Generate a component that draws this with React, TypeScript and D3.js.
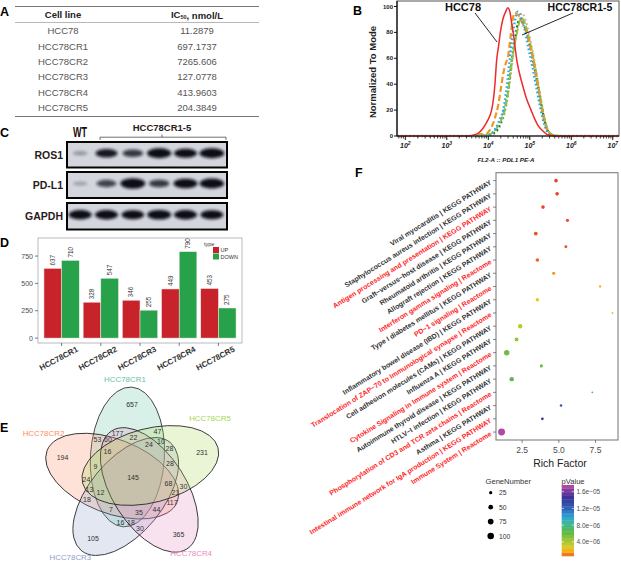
import React, { useMemo } from "react";
import * as d3 from "d3";

const FONT = "'Liberation Sans', Arial, Helvetica, sans-serif";

// ---------- A: IC50 table
const cellLines = ["HCC78", "HCC78CR1", "HCC78CR2", "HCC78CR3", "HCC78CR4", "HCC78CR5"];
const ic50Values = [11.2879, 697.1737, 7265.606, 127.0778, 413.9603, 204.3849];

// ---------- B: PD-L1 flow histograms, [log10(FL2-A), % of mode]
const hcc78Hist = [[1.8,0],[3.5,0],[3.65,0.8],[3.75,2],[3.85,5],[3.95,10],[4.03,15],[4.08,20],[4.13,30],[4.16,40],[4.2,58],[4.25,70],[4.29,80],[4.35,90],[4.42,96],[4.47,99],[4.52,96],[4.56,88],[4.6,80],[4.64,70],[4.68,60],[4.74,50],[4.82,40],[4.92,29],[5.03,20],[5.12,13],[5.2,8],[5.31,4],[5.4,1.5],[5.5,0.3],[5.6,0],[7.15,0]];
const cr1Hist = [[1.8,0],[3.9,0],[4.0,0.5],[4.08,2],[4.18,6],[4.28,13],[4.36,20],[4.42,32],[4.47,45],[4.52,60],[4.57,74],[4.62,85],[4.67,93],[4.71,96],[4.76,94],[4.82,88],[4.88,82],[4.94,72],[5.0,63],[5.06,54],[5.12,44],[5.18,34],[5.24,24],[5.3,15],[5.36,8],[5.42,3],[5.5,0.8],[5.6,0],[7.15,0]];
const cr2Hist = [[1.8,0],[3.7,0],[3.8,1.5],[3.9,1],[4.0,3],[4.08,7],[4.16,14],[4.24,24],[4.3,36],[4.36,48],[4.42,56],[4.48,62],[4.53,75],[4.58,88],[4.63,95],[4.7,94],[4.77,91],[4.84,86],[4.92,80],[5.0,70],[5.06,62],[5.12,52],[5.18,42],[5.23,32],[5.28,22],[5.34,13],[5.4,6],[5.47,2],[5.55,0.5],[5.65,0],[7.15,0]];
const cr3Hist = [[1.8,0],[3.6,0],[3.8,0.5],[4.0,1],[4.12,3],[4.22,7],[4.32,13],[4.4,20],[4.47,32],[4.52,45],[4.57,58],[4.62,68],[4.68,78],[4.74,87],[4.8,91],[4.86,89],[4.92,83],[4.98,76],[5.05,66],[5.12,55],[5.18,44],[5.24,33],[5.3,22],[5.36,13],[5.42,6],[5.5,2],[5.6,0.5],[5.75,0],[7.15,0]];
const cr4Hist = [[1.8,0],[3.8,0],[4.0,0.5],[4.12,2],[4.24,6],[4.34,14],[4.42,24],[4.48,36],[4.54,52],[4.6,66],[4.66,78],[4.71,87],[4.76,90],[4.82,88],[4.88,84],[4.94,78],[5.0,70],[5.07,60],[5.14,48],[5.2,38],[5.26,27],[5.32,17],[5.38,9],[5.45,3],[5.55,0.8],[5.65,0],[7.15,0]];
const cr5Hist = [[1.8,0],[3.9,0],[4.1,1],[4.22,4],[4.32,10],[4.4,18],[4.47,30],[4.53,44],[4.59,60],[4.65,74],[4.71,85],[4.77,92],[4.82,95],[4.87,92],[4.93,86],[4.99,78],[5.06,67],[5.13,55],[5.19,43],[5.25,32],[5.31,21],[5.37,12],[5.43,5],[5.5,1.5],[5.6,0],[7.15,0]];
const flowTicksY = [0, 20, 40, 60, 80, 100];
const flowDecades = [2, 3, 4, 5, 6, 7];

// ---------- C: western blot band intensity (WT, CR1..CR5)
const blotLanes = ["WT", "CR1", "CR2", "CR3", "CR4", "CR5"];
const ros1Bands = [0.1, 0.75, 0.6, 0.92, 0.82, 0.97];
const pdl1Bands = [0.06, 0.55, 1.0, 0.6, 0.9, 0.95];
const gapdhBands = [0.85, 0.85, 0.8, 0.9, 0.85, 0.82];

// ---------- D: DEG counts
const degLines = ["HCC78CR1", "HCC78CR2", "HCC78CR3", "HCC78CR4", "HCC78CR5"];
const upCounts = [637, 328, 346, 449, 453];
const downCounts = [710, 547, 255, 790, 275];
const degTicks = [0, 250, 500, 750];

// ---------- E: Venn (sets numbered 1..5 = CR1..CR5)
const vennNames = ["HCC78CR1", "HCC78CR2", "HCC78CR3", "HCC78CR4", "HCC78CR5"];
const vennKeys = ["1","2","3","4","5","15","45","34","23","12","14","35","24","13","25",
  "124","135","245","134","235","145","345","234","123","125",
  "1245","1345","2345","1234","1235","12345"];
const vennCounts = [657,194,105,365,231,47,30,30,18,53,177,28,117,16,24,
  60,10,21,18,13,22,28,44,7,9,
  16,24,68,35,12,145];

// ---------- F: enrichment dot plot
const pathwayNames = [
  "Viral myocarditis | KEGG PATHWAY",
  "Staphylococcus aureus infection | KEGG PATHWAY",
  "Antigen processing and presentation | KEGG PATHWAY",
  "Graft\u2212versus\u2212host disease | KEGG PATHWAY",
  "Rheumatoid arthritis | KEGG PATHWAY",
  "Allograft rejection | KEGG PATHWAY",
  "Interferon gamma signaling | Reactome",
  "Type I diabetes mellitus | KEGG PATHWAY",
  "PD\u22121 signaling | Reactome",
  "Inflammatory bowel disease (IBD) | KEGG PATHWAY",
  "Translocation of ZAP\u221270 to Immunological synapse | Reactome",
  "Cell adhesion molecules (CAMs) | KEGG PATHWAY",
  "Influenza A | KEGG PATHWAY",
  "Cytokine Signaling in Immune system | Reactome",
  "Autoimmune thyroid disease | KEGG PATHWAY",
  "HTLV\u2212I infection | KEGG PATHWAY",
  "Phosphorylation of CD3 and TCR zeta chains | Reactome",
  "Asthma | KEGG PATHWAY",
  "Intestinal immune network for IgA production | KEGG PATHWAY",
  "Immune System | Reactome",
];
const pathwayHighlighted = [false,false,true,false,false,false,true,false,true,false,true,false,false,true,false,false,true,false,true,true];
const richFactor = [4.81,4.88,3.92,5.59,3.43,5.48,3.54,4.65,7.81,3.54,8.65,2.37,2.12,1.45,3.81,1.79,7.28,5.15,3.88,1.1];
const geneNumber = [30,30,30,22,34,20,30,22,12,28,8,45,35,70,22,45,8,15,18,110];
const pValue = [3e-7,3e-7,3.5e-7,4e-7,5e-7,5e-7,7e-7,1.4e-6,1.8e-6,2.4e-6,2.6e-6,3.5e-6,4.6e-6,5.8e-6,6.2e-6,6.5e-6,8.4e-6,1.25e-5,1.4e-5,1.72e-5];
const sizeLegend = [25, 50, 75, 100];
const pLegend = [4e-6, 8e-6, 1.2e-5, 1.6e-5];

// ---------- style
const red = "#c8232b";
const green = "#27a24a";
const vennColors = ["#66c2a5", "#fc8d62", "#8da0cb", "#e78ac3", "#a6d854"];
const pStops = [0, 0.8e-6, 2.2e-6, 4e-6, 6.5e-6, 8.5e-6, 1.0e-5, 1.2e-5, 1.45e-5, 1.6e-5, 1.76e-5];
const pColors = ["#e62a2a","#f06a20","#f3c81e","#aac832","#5cb84c","#3db79a","#2ea6d6","#2f62b8","#3a3394","#6e3a9e","#c64da6"];

// R style "1.6e-05"
const fmtP = (p) => p.toExponential(1).replace(/e-(\d)$/, "e\u22120$1");

function Letter({ x, y, t }) {
  return <text x={x} y={y} fontSize={12.5} fontWeight="bold" fill="#000">{t}</text>;
}

function PanelA() {
  const y = d3.scaleBand().domain(cellLines).range([23.3, 115.3]);
  return (
    <g>
      <Letter x={0} y={16} t="A" />
      <line x1={15} x2={259} y1={6.5} y2={6.5} stroke="#777" strokeWidth={1} />
      <line x1={15} x2={259} y1={22.5} y2={22.5} stroke="#999" strokeWidth={0.7} />
      <line x1={15} x2={259} y1={116.5} y2={116.5} stroke="#777" strokeWidth={1.1} />
      <text x={63} y={14.5} fontSize={9.5} fontWeight="bold" textAnchor="middle" dominantBaseline="central" fill="#222">Cell line</text>
      <text x={197} y={14.5} fontSize={9.5} fontWeight="bold" textAnchor="middle" dominantBaseline="central" fill="#222">
        IC<tspan fontSize={5.5} dy={2}>50</tspan><tspan dy={-2}>, nmol/L</tspan>
      </text>
      {cellLines.map((c, i) => (
        <g key={c} fill="#555" fontSize={9.5} textAnchor="middle" dominantBaseline="central">
          <text x={63} y={y(c) + y.bandwidth() / 2}>{c}</text>
          <text x={197} y={y(c) + y.bandwidth() / 2}>{String(ic50Values[i])}</text>
        </g>
      ))}
    </g>
  );
}

function PanelB() {
  const x = d3.scaleLog().domain([10 ** 1.8, 10 ** 7.15]).range([397, 619]);
  const y = d3.scaleLinear().domain([0, 100]).range([136, 6.5]);
  const line = d3.line().x((d) => x(10 ** d[0])).y((d) => y(d[1])).curve(d3.curveMonotoneX);
  const series = [
    { d: cr5Hist, c: "#d9a3ab", w: 2, dash: "1.6,3" },
    { d: cr4Hist, c: "#12733a", w: 2.2, dash: "1.8,2.6" },
    { d: cr3Hist, c: "#8cc63f", w: 2, dash: "7,2" },
    { d: cr2Hist, c: "#f7941d", w: 2.2, dash: "6,3" },
    { d: cr1Hist, c: "#27aae1", w: 2.4, dash: "1.6,2.4" },
    { d: hcc78Hist, c: "#ee2a2a", w: 1.5, dash: null },
  ];
  const minor = [];
  for (let e = 1; e <= 7; e++) for (let m = 2; m <= 9; m++) {
    const v = m * 10 ** e;
    if (v >= 10 ** 1.8 && v <= 10 ** 7.15) minor.push(v);
  }
  return (
    <g>
      <Letter x={353} y={15} t="B" />
      <rect x={397} y={1} width={222} height={135} fill="none" stroke="#555" strokeWidth={1} />
      {series.map((s, i) => (
        <path key={i} d={line(s.d)} fill="none" stroke={s.c} strokeWidth={s.w} strokeDasharray={s.dash || undefined} />
      ))}
      <line x1={397} x2={397} y1={1} y2={136} stroke="#111" strokeWidth={1.2} />
      <line x1={397} x2={619} y1={136} y2={136} stroke="#111" strokeWidth={1.2} />
      {flowTicksY.map((t) => (
        <g key={t}>
          <line x1={394} x2={397} y1={y(t)} y2={y(t)} stroke="#111" />
          <text x={393} y={y(t)} fontSize={6} fontWeight="bold" textAnchor="end" dominantBaseline="central" fill="#222">{t}</text>
        </g>
      ))}
      {minor.map((v) => <line key={v} x1={x(v)} x2={x(v)} y1={136} y2={138.5} stroke="#111" strokeWidth={0.8} />)}
      {flowDecades.map((e) => (
        <g key={e}>
          <line x1={x(10 ** e)} x2={x(10 ** e)} y1={136} y2={140} stroke="#111" strokeWidth={1} />
          <text x={x(10 ** e)} y={148} fontSize={7} fontWeight="bold" fontStyle="italic" textAnchor="middle" fill="#222">
            10<tspan fontSize={5} dy={-3.5}>{e}</tspan>
          </text>
        </g>
      ))}
      <text x={506} y={162} fontSize={6.2} fontWeight="bold" fontStyle="italic" textAnchor="middle" fill="#222">FL2-A :: PDL1 PE-A</text>
      <text transform="translate(376,72) rotate(-90)" fontSize={9.5} fontWeight="bold" textAnchor="middle" fill="#222">Normalized To Mode</text>
      <text x={463} y={11} fontSize={11} fontWeight="bold" textAnchor="middle" fill="#111">HCC78</text>
      <line x1={475} y1={13} x2={497} y2={42} stroke="#111" strokeWidth={0.9} />
      <text x={580} y={11} fontSize={10.5} fontWeight="bold" textAnchor="middle" fill="#111">HCC78CR1-5</text>
      <line x1={573} y1={13} x2={522} y2={35} stroke="#111" strokeWidth={0.9} />
    </g>
  );
}

function PanelC() {
  const lane = d3.scaleBand().domain(blotLanes).range([67, 225]);
  const rows = [
    { name: "ROS1", bands: ros1Bands, y0: 142, y1: 167.5 },
    { name: "PD-L1", bands: pdl1Bands, y0: 172, y1: 198 },
    { name: "GAPDH", bands: gapdhBands, y0: 203, y1: 229.5 },
  ];
  return (
    <g>
      <defs>
        <filter id="blotBlur" x="-30%" y="-60%" width="160%" height="220%">
          <feGaussianBlur stdDeviation="1.6" />
        </filter>
      </defs>
      <Letter x={0} y={136.7} t="C" />
      <text x={80} y={136.5} fontSize={15} fontWeight="bold" textAnchor="middle" textLength={14} lengthAdjust="spacingAndGlyphs" fill="#1a0d0d">WT</text>
      <text x={162} y={130.5} fontSize={9.5} fontWeight="bold" textAnchor="middle" fill="#2a1a1a">HCC78CR1-5</text>
      <path d="M100,140 L100,137.2 L226,137.2 L226,140 M162,137.2 L162,134.5" fill="none" stroke="#333" strokeWidth={0.7} />
      {rows.map((r) => (
        <g key={r.name}>
          <text x={63} y={(r.y0 + r.y1) / 2} fontSize={10.5} fontWeight="bold" textAnchor="end" dominantBaseline="central" fill="#2a1a1a">{r.name}</text>
          <rect x={67} y={r.y0} width={160} height={r.y1 - r.y0} fill="#d4d6de" />
          <g filter="url(#blotBlur)">
            {r.bands.map((v, i) => (
              <ellipse key={i} cx={lane(blotLanes[i]) + lane.bandwidth() / 2} cy={(r.y0 + r.y1) / 2 - 1.5}
                rx={7 + 5.5 * v} ry={1.8 + 3.4 * v} fill="#111118" opacity={Math.min(1, 0.2 + v)} />
            ))}
          </g>
          <rect x={67} y={r.y0} width={160} height={r.y1 - r.y0} fill="none" stroke="#050505" strokeWidth={2} />
        </g>
      ))}
    </g>
  );
}

function PanelD() {
  const x0 = d3.scaleBand().domain(degLines).range([38, 242]).paddingInner(0.1).paddingOuter(0.152);
  const x1 = d3.scaleBand().domain(["UP", "DOWN"]).range([0, x0.bandwidth()]);
  const y = d3.scaleLinear().domain([-45, 915]).range([343, 238]);
  const bars = degLines.flatMap((g, i) => [
    { g, k: "UP", v: upCounts[i], c: red },
    { g, k: "DOWN", v: downCounts[i], c: green },
  ]);
  return (
    <g>
      <Letter x={0} y={247.3} t="D" />
      <rect x={38} y={238} width={204} height={105} fill="#fff" stroke="#aaa" strokeWidth={0.8} />
      {bars.map((b) => {
        const bx = x0(b.g) + x1(b.k);
        const cx = bx + x1.bandwidth() / 2;
        return (
          <g key={b.g + b.k}>
            <rect x={bx} y={y(b.v)} width={x1.bandwidth()} height={y(0) - y(b.v)} fill={b.c} stroke="#f2eaea" strokeWidth={0.5} />
            <text transform={`translate(${cx + 2.2},${y(b.v) - 3}) rotate(-90)`} fontSize={6.3} fill="#333">{b.v}</text>
          </g>
        );
      })}
      {degTicks.map((t) => (
        <g key={t}>
          <line x1={35} x2={38} y1={y(t)} y2={y(t)} stroke="#444" strokeWidth={0.7} />
          <text x={33} y={y(t)} fontSize={7} textAnchor="end" dominantBaseline="central" fill="#4d4d4d">{t}</text>
        </g>
      ))}
      {degLines.map((g) => {
        const cx = x0(g) + x0.bandwidth() / 2;
        return (
          <g key={g}>
            <line x1={cx} x2={cx} y1={343} y2={346} stroke="#444" strokeWidth={0.7} />
            <text transform={`translate(${cx + 17},${351}) rotate(-28)`} fontSize={8} fontWeight="bold" textAnchor="end" fill="#333">{g}</text>
          </g>
        );
      })}
      <text x={204} y={245.5} fontSize={5.5} fill="#333">type</text>
      <rect x={213} y={247} width={6} height={6} fill={red} />
      <rect x={213} y={253.5} width={6} height={6} fill={green} />
      <text x={220.5} y={250} fontSize={5.5} dominantBaseline="central" fill="#333">UP</text>
      <text x={220.5} y={256.5} fontSize={5.5} dominantBaseline="central" fill="#333">DOWN</text>
    </g>
  );
}

// Venn layout constants (VennDiagram-like 5-ellipse arrangement)
const vennLayout = { cx: 133, cy: 477, offset: 20.8, a: 37, b: 70, start: -96.6, centerTurn: -9, axisTurn: 10 };
const vennSlot = [0, 4, 3, 2, 1];
const vennCatTurn = [1.9, 14.6, 8.4, 5.3, -12.4];
const vennCatDist = [98.3, 99.6, 102.2, 96, 96.4];

function PanelE() {
  const L = vennLayout;
  // ellipses, then the deepest point of every region for its count label
  const { ells, labels } = useMemo(() => {
    const ells = vennNames.map((_, i) => {
      const th = L.start + 72 * vennSlot[i];
      const rc = ((th + L.centerTurn) * Math.PI) / 180;
      const ra = ((th + L.axisTurn) * Math.PI) / 180;
      return { cx: L.cx + L.offset * Math.cos(rc), cy: L.cy + L.offset * Math.sin(rc), rot: th + L.axisTurn, ux: Math.cos(ra), uy: Math.sin(ra), th };
    });
    const best = new Map();
    for (let py = 375; py <= 562; py += 0.5) {
      for (let px = 30; px <= 235; px += 0.5) {
        let key = "";
        let depth = Infinity;
        ells.forEach((e, i) => {
          const dx = px - e.cx, dy = py - e.cy;
          const s = dx * e.ux + dy * e.uy;
          const t = -dx * e.uy + dy * e.ux;
          const q = (s / L.b) ** 2 + (t / L.a) ** 2;
          const g = 2 * Math.hypot(s / (L.b * L.b), t / (L.a * L.a));
          const dist = g > 1e-9 ? Math.abs(q - 1) / g : 1e9;
          if (q < 1) key += String(i + 1);
          depth = Math.min(depth, dist);
        });
        if (!key) continue;
        const cur = best.get(key);
        if (!cur || depth > cur.d) best.set(key, { d: depth, x: px, y: py });
      }
    }
    return { ells, labels: best };
  }, []);
  return (
    <g>
      <Letter x={0} y={431.7} t="E" />
      {ells.map((e, i) => (
        <ellipse key={i} transform={`translate(${e.cx},${e.cy}) rotate(${e.rot})`} rx={L.b} ry={L.a}
          fill={vennColors[i]} fillOpacity={0.25} stroke="#222" strokeWidth={0.8} />
      ))}
      {vennKeys.map((k, i) => {
        const p = labels.get(k);
        if (!p) return null;
        return <text key={k} x={p.x} y={p.y} fontSize={7} textAnchor="middle" dominantBaseline="central" fill="#333">{vennCounts[i]}</text>;
      })}
      {vennNames.map((n, i) => {
        const a = ((ells[i].th + vennCatTurn[i]) * Math.PI) / 180;
        return (
          <text key={n} x={L.cx + vennCatDist[i] * Math.cos(a)} y={L.cy + vennCatDist[i] * Math.sin(a)} fontSize={7.9}
            textAnchor="middle" dominantBaseline="central" fill={vennColors[i]}>{n}</text>
        );
      })}
    </g>
  );
}

function PanelF() {
  const x = d3.scaleLinear().domain([0.72, 9.03]).range([496, 618]);
  const y = d3.scalePoint().domain(pathwayNames).range([172.7, 440]).padding(0.6);
  const r = d3.scaleSqrt().domain([0, 120]).range([0, 3.6]);
  const col = d3.scaleLinear().domain(pStops).range(pColors).clamp(true);
  const barTop = 485, barBot = 556, pMin = 0.6e-6, pMax = 1.76e-5;
  const yb = d3.scaleLinear().domain([pMin, pMax]).range([barBot, barTop]);
  const bins = d3.range(20).map((i) => pMin + ((i + 0.5) * (pMax - pMin)) / 20);
  const sizeY = d3.scalePoint().domain(sizeLegend.map(String)).range([492.7, 536]);
  return (
    <g>
      <Letter x={355} y={176.7} t="F" />
      <rect x={496} y={172.7} width={122} height={267.3} fill="#fff" stroke="#7f7f7f" strokeWidth={1.1} />
      {pathwayNames.map((n, i) => (
        <g key={n}>
          <line x1={493} x2={496} y1={y(n)} y2={y(n)} stroke="#555" strokeWidth={0.7} />
          <text transform={`translate(491,${y(n) + 1.5}) rotate(-32)`} fontSize={7} fontWeight="bold" textAnchor="end"
            dominantBaseline="middle" fill={pathwayHighlighted[i] ? "#ff1f1f" : "#333"}>{n}</text>
        </g>
      ))}
      {pathwayNames.map((n, i) => (
        <circle key={n} cx={x(richFactor[i])} cy={y(n)} r={r(geneNumber[i])} fill={col(pValue[i])} />
      ))}
      {[2.5, 5.0, 7.5].map((t) => (
        <g key={t}>
          <line x1={x(t)} x2={x(t)} y1={440} y2={443} stroke="#555" strokeWidth={0.7} />
          <text x={x(t)} y={449.5} fontSize={8.5} textAnchor="middle" dominantBaseline="central" fill="#4d4d4d">{t.toFixed(1)}</text>
        </g>
      ))}
      <text x={560} y={467} fontSize={10.5} textAnchor="middle" fill="#222">Rich Factor</text>
      <text x={485.5} y={483.5} fontSize={7.6} fill="#333">GeneNumber</text>
      {sizeLegend.map((s) => (
        <g key={s}>
          <circle cx={490.7} cy={sizeY(String(s))} r={r(s)} fill="#000" />
          <text x={499} y={sizeY(String(s))} fontSize={6.8} dominantBaseline="central" fill="#333">{s}</text>
        </g>
      ))}
      <text x={561.5} y={483.5} fontSize={7.6} fill="#333">pValue</text>
      {bins.map((b, i) => (
        <rect key={i} x={561.7} y={barBot - ((i + 1) * (barBot - barTop)) / 20} width={12.3} height={(barBot - barTop) / 20 + 0.3} fill={col(b)} />
      ))}
      {pLegend.map((p) => (
        <g key={p}>
          <line x1={561.7} x2={564} y1={yb(p)} y2={yb(p)} stroke="#fff" strokeWidth={0.6} />
          <line x1={571.7} x2={574} y1={yb(p)} y2={yb(p)} stroke="#fff" strokeWidth={0.6} />
          <text x={576.5} y={yb(p)} fontSize={6.5} dominantBaseline="central" fill="#4d4d4d">{fmtP(p)}</text>
        </g>
      ))}
    </g>
  );
}

export default function App() {
  return (
    <svg width={621} height={562} viewBox="0 0 621 562" fontFamily={FONT}
      style={{ position: "absolute", left: 0, top: 0, background: "#fff" }}>
      <rect width={621} height={562} fill="#fff" />
      <PanelA />
      <PanelB />
      <PanelC />
      <PanelD />
      <PanelE />
      <PanelF />
    </svg>
  );
}
